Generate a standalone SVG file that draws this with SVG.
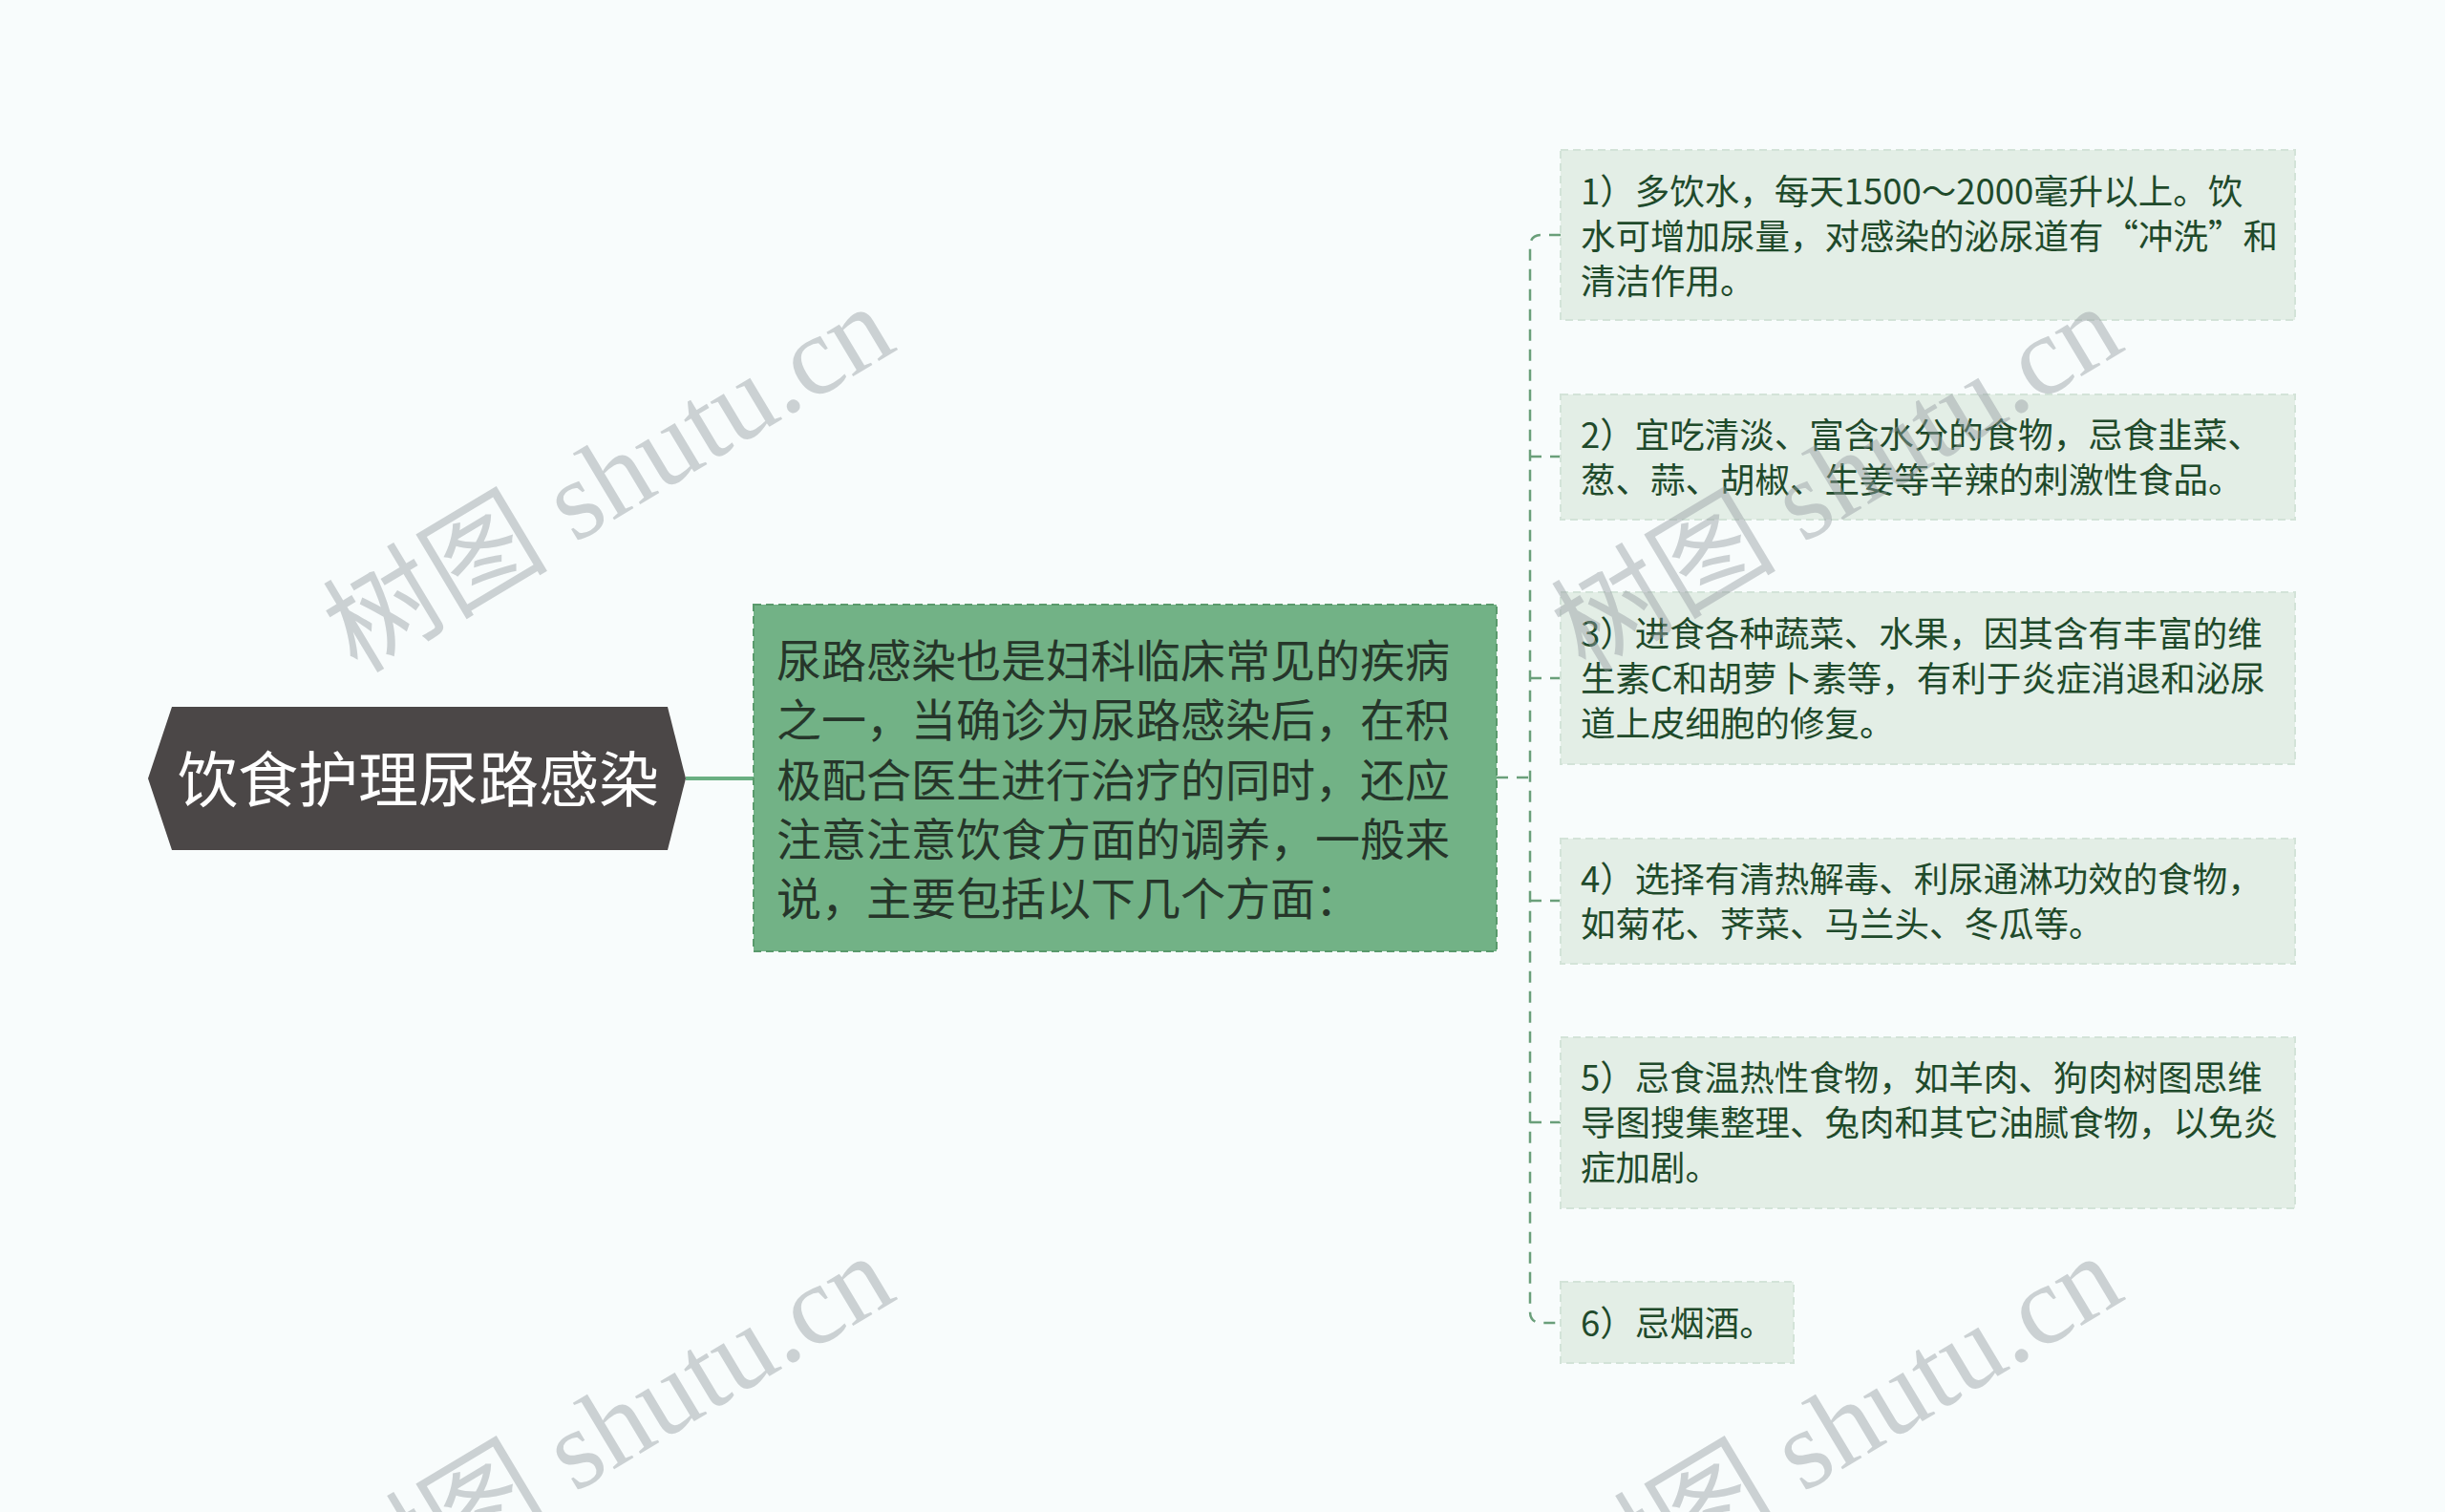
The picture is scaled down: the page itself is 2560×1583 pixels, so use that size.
<svg xmlns="http://www.w3.org/2000/svg" width="2560" height="1583" viewBox="0 0 2560 1583">
<style>
.bg{fill:#f8fcfc}
.root{fill:#4b4747}
.rootT{font-family:"Noto Sans CJK SC","Noto Sans",sans-serif;font-size:63px;fill:#ffffff}
.mid{fill:#72b286;stroke:#5a9a6c;stroke-width:2;stroke-dasharray:8 5}
.midT{font-family:"Noto Sans CJK SC","Noto Sans",sans-serif;font-size:47px;fill:#26362a}
.leaf{fill:#e3eee6;stroke:#d3e3d8;stroke-width:2;stroke-dasharray:8 5}
.leafT{font-family:"Noto Sans CJK SC","Noto Sans",sans-serif;font-size:36.5px;fill:#1f4a2b}
.conn{fill:none;stroke:#6a9f7a;stroke-width:2.5;stroke-dasharray:12 9}
.solid{fill:none;stroke:#6aaf82;stroke-width:4}
.wm{font-family:"Liberation Serif","Noto Sans CJK SC",serif;font-size:118px;fill:#969ea3;opacity:0.45}
</style>
<rect class="bg" x="0" y="0" width="2560" height="1583"/>
<g id="connectors">
<path class="solid" d="M718,815 H789"/>
<path class="conn" d="M1567,814 H1602"/>
<path class="conn" d="M1634,246 H1614 Q1602,246 1602,258 V1373 Q1602,1385 1614,1385 H1634"/>
<path class="conn" d="M1602,478 H1634"/>
<path class="conn" d="M1602,710 H1634"/>
<path class="conn" d="M1602,943 H1634"/>
<path class="conn" d="M1602,1175 H1634"/>
</g>
<g id="node-root">
<polygon class="root" points="155,815 180,740 699,740 718,815 699,890 180,890"/>
<text class="rootT" x="438" y="839" text-anchor="middle">饮食护理尿路感染</text>
</g>
<g id="node-main">
<rect class="mid" x="789" y="633" width="778" height="363"/>
<text class="midT">
<tspan x="813" y="709">尿路感染也是妇科临床常见的疾病</tspan>
<tspan x="813" y="771">之一，当确诊为尿路感染后，在积</tspan>
<tspan x="813" y="834">极配合医生进行治疗的同时，还应</tspan>
<tspan x="813" y="896">注意注意饮食方面的调养，一般来</tspan>
<tspan x="813" y="958">说，主要包括以下几个方面：</tspan>
</text>
</g>
<g id="node-1">
<rect class="leaf" x="1634" y="157" width="769" height="178"/>
<text class="leafT">
<tspan x="1655" y="214">1）多饮水，每天1500～2000毫升以上。饮</tspan>
<tspan x="1655" y="261">水可增加尿量，对感染的泌尿道有“冲洗”和</tspan>
<tspan x="1655" y="308">清洁作用。</tspan>
</text>
</g>
<g id="node-2">
<rect class="leaf" x="1634" y="413" width="769" height="131"/>
<text class="leafT">
<tspan x="1655" y="469">2）宜吃清淡、富含水分的食物，忌食韭菜、</tspan>
<tspan x="1655" y="516">葱、蒜、胡椒、生姜等辛辣的刺激性食品。</tspan>
</text>
</g>
<g id="node-3">
<rect class="leaf" x="1634" y="620" width="769" height="180"/>
<text class="leafT">
<tspan x="1655" y="677">3）进食各种蔬菜、水果，因其含有丰富的维</tspan>
<tspan x="1655" y="724">生素C和胡萝卜素等，有利于炎症消退和泌尿</tspan>
<tspan x="1655" y="771">道上皮细胞的修复。</tspan>
</text>
</g>
<g id="node-4">
<rect class="leaf" x="1634" y="878" width="769" height="131"/>
<text class="leafT">
<tspan x="1655" y="934">4）选择有清热解毒、利尿通淋功效的食物，</tspan>
<tspan x="1655" y="981">如菊花、荠菜、马兰头、冬瓜等。</tspan>
</text>
</g>
<g id="node-5">
<rect class="leaf" x="1634" y="1086" width="769" height="179"/>
<text class="leafT">
<tspan x="1655" y="1142">5）忌食温热性食物，如羊肉、狗肉树图思维</tspan>
<tspan x="1655" y="1189">导图搜集整理、兔肉和其它油腻食物，以免炎</tspan>
<tspan x="1655" y="1236">症加剧。</tspan>
</text>
</g>
<g id="node-6">
<rect class="leaf" x="1634" y="1342" width="244" height="85"/>
<text class="leafT"><tspan x="1655" y="1399">6）忌烟酒。</tspan></text>
</g>
<g id="watermarks">
<text class="wm" transform="translate(374,706) rotate(-31)">树图 shutu.cn</text>
<text class="wm" transform="translate(1660,706) rotate(-31)">树图 shutu.cn</text>
<text class="wm" transform="translate(374,1700) rotate(-31)">树图 shutu.cn</text>
<text class="wm" transform="translate(1660,1700) rotate(-31)">树图 shutu.cn</text>
</g>
</svg>
